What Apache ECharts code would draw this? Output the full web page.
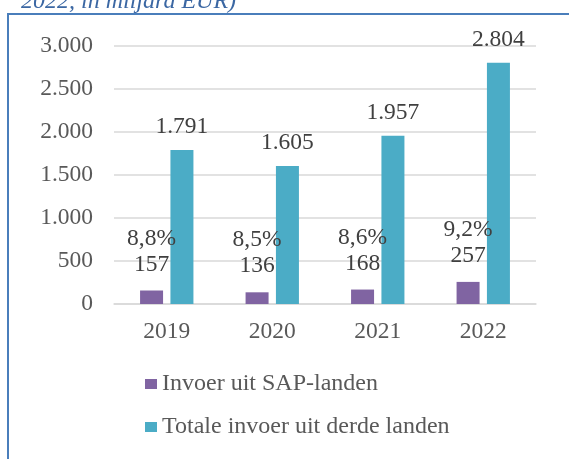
<!DOCTYPE html>
<html>
<head>
<meta charset="utf-8">
<script src="https://cdn.jsdelivr.net/npm/echarts@6/dist/echarts.min.js"></script>
<style>
  html, body { margin: 0; padding: 0; background: #fff; }
  #container { width: 569px; height: 459px; }
</style>
</head>
<body>
<div id="container"></div>
<script>
var years = ['2019', '2020', '2021', '2022'];
var sapImports = [157, 136, 168, 257];
var sapShare = ['8,8%', '8,5%', '8,6%', '9,2%'];
var totalImports = [1791, 1605, 1957, 2804];
var yTicks = { min: 0, max: 3000, step: 500 };

function nl(v) {
  return String(v).replace(/\B(?=(\d{3})+(?!\d))/g, '.');
}

var dom = document.getElementById('container');
var myChart = echarts.init(dom, null, { renderer: 'canvas' });

var serif = 'Liberation Serif';
var fs = 23.5;

var option = {
  animation: false,
  textStyle: { fontFamily: serif },
  graphic: [
    {
      type: 'polyline',
      shape: { points: [[8, 459], [8, 14], [569, 14]] },
      style: { stroke: '#4a7ebb', lineWidth: 2, fill: null }
    },
    {
      type: 'text',
      style: {
        text: '2022, in miljard EUR)',
        x: 21, y: 2,
        verticalAlign: 'middle',
        fontFamily: serif,
        fontSize: 24,
        fontStyle: 'italic',
        fill: '#3b67a3'
      }
    }
  ],
  grid: { left: 114, right: 33, top: 46, bottom: 155 },
  legend: {
    orient: 'vertical',
    left: 140,
    top: 367,
    itemWidth: 12,
    itemHeight: 10,
    itemGap: 19,
    icon: 'rect',
    textStyle: { fontFamily: serif, fontSize: 24, color: '#595959', lineHeight: 23 },
    data: ['Invoer uit SAP-landen', 'Totale invoer uit derde landen']
  },
  xAxis: {
    type: 'category',
    data: years,
    axisTick: { show: false },
    axisLine: { lineStyle: { color: '#d9d9d9', width: 1.5 } },
    axisLabel: { fontFamily: serif, fontSize: fs, color: '#595959', margin: 16 }
  },
  yAxis: {
    type: 'value',
    min: yTicks.min,
    max: yTicks.max,
    interval: yTicks.step,
    axisLine: { show: false },
    axisTick: { show: false },
    splitLine: { lineStyle: { color: '#d9d9d9', width: 1.5 } },
    axisLabel: {
      fontFamily: serif, fontSize: fs, color: '#595959', margin: 21,
      formatter: function (v) { return nl(v); }
    }
  },
  series: [
    {
      name: 'Invoer uit SAP-landen',
      type: 'bar',
      data: sapImports,
      barWidth: 23,
      barGap: '32%',
      itemStyle: { color: '#8064a2' },
      label: {
        show: true,
        position: 'top',
        distance: 13,
        fontFamily: serif,
        fontSize: fs,
        lineHeight: 26,
        color: '#404040',
        formatter: function (p) { return sapShare[p.dataIndex] + '\n' + nl(p.value); }
      }
    },
    {
      name: 'Totale invoer uit derde landen',
      type: 'bar',
      data: totalImports,
      barWidth: 23,
      itemStyle: { color: '#4bacc6' },
      label: {
        show: true,
        position: 'top',
        distance: 11,
        fontFamily: serif,
        fontSize: fs,
        lineHeight: 24,
        color: '#404040',
        formatter: function (p) { return nl(p.value); }
      }
    }
  ]
};

myChart.setOption(option);
window.addEventListener('resize', myChart.resize);
</script>
</body>
</html>
